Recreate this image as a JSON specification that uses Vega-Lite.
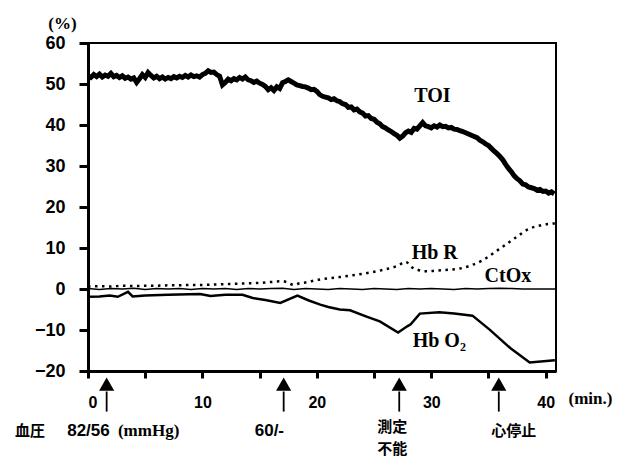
{
  "$schema": "https://vega.github.io/schema/vega-lite/v6.json",
  "width": 468,
  "height": 328,
  "autosize": {"type": "none"},
  "padding": {"left": 88, "top": 43, "right": 68, "bottom": 86},
  "background": "white",
  "config": {
    "view": {"stroke": "black", "strokeWidth": 2},
    "axis": {
      "grid": false,
      "domainColor": "black",
      "domainWidth": 3,
      "tickColor": "black",
      "tickWidth": 3,
      "labelColor": "black",
      "labelFont": "Liberation Sans",
      "labelFontWeight": "bold",
      "titleColor": "black",
      "titleFont": "Liberation Serif",
      "titleFontWeight": "bold"
    }
  },
  "datasets": {
    "toi": [
      {"t":0.0,"v":52.0},{"t":0.25,"v":51.6},{"t":0.5,"v":52.3},{"t":0.75,"v":51.8},{"t":1.0,"v":52.4},{"t":1.25,"v":51.7},{"t":1.5,"v":52.2},{"t":1.75,"v":51.9},
      {"t":2.0,"v":52.6},{"t":2.25,"v":51.8},{"t":2.5,"v":52.1},{"t":2.75,"v":51.6},{"t":3.0,"v":52.0},{"t":3.25,"v":51.4},{"t":3.5,"v":51.7},{"t":3.75,"v":51.2},
      {"t":4.0,"v":51.5},{"t":4.25,"v":50.4},{"t":4.5,"v":51.3},{"t":4.75,"v":52.3},{"t":5.0,"v":51.6},{"t":5.25,"v":52.8},{"t":5.5,"v":52.1},{"t":5.75,"v":51.5},
      {"t":6.0,"v":51.9},{"t":6.25,"v":51.3},{"t":6.5,"v":51.7},{"t":6.75,"v":51.2},{"t":7.0,"v":51.6},{"t":7.25,"v":51.3},{"t":7.5,"v":51.8},{"t":7.75,"v":51.5},
      {"t":8.0,"v":51.9},{"t":8.25,"v":51.6},{"t":8.5,"v":52.1},{"t":8.75,"v":51.7},{"t":9.0,"v":52.2},{"t":9.25,"v":51.8},{"t":9.5,"v":52.0},{"t":9.75,"v":51.7},
      {"t":10.0,"v":52.3},{"t":10.25,"v":52.6},{"t":10.5,"v":53.2},{"t":10.75,"v":52.8},{"t":11.0,"v":52.9},{"t":11.25,"v":52.3},{"t":11.5,"v":51.9},{"t":11.75,"v":49.8},
      {"t":12.0,"v":50.4},{"t":12.25,"v":51.2},{"t":12.5,"v":50.8},{"t":12.75,"v":51.3},{"t":13.0,"v":51.0},{"t":13.25,"v":51.6},{"t":13.5,"v":51.2},{"t":13.75,"v":51.7},
      {"t":14.0,"v":51.0},{"t":14.25,"v":50.8},{"t":14.5,"v":50.4},{"t":14.75,"v":50.7},{"t":15.0,"v":50.2},{"t":15.25,"v":49.9},{"t":15.5,"v":49.4},{"t":15.75,"v":48.6},
      {"t":16.0,"v":49.1},{"t":16.25,"v":48.4},{"t":16.5,"v":49.3},{"t":16.75,"v":48.9},{"t":17.0,"v":50.3},{"t":17.25,"v":50.6},{"t":17.5,"v":51.0},{"t":17.75,"v":50.6},
      {"t":18.0,"v":50.2},{"t":18.25,"v":49.8},{"t":18.5,"v":49.6},{"t":18.75,"v":49.4},{"t":19.0,"v":49.3},{"t":19.25,"v":49.0},{"t":19.5,"v":48.6},{"t":19.75,"v":48.7},
      {"t":20.0,"v":48.2},{"t":20.25,"v":47.4},{"t":20.5,"v":47.0},{"t":20.75,"v":46.8},{"t":21.0,"v":46.6},{"t":21.25,"v":46.2},{"t":21.5,"v":46.4},{"t":21.75,"v":45.9},
      {"t":22.0,"v":45.7},{"t":22.25,"v":45.2},{"t":22.5,"v":45.0},{"t":22.75,"v":44.3},{"t":23.0,"v":44.4},{"t":23.25,"v":43.7},{"t":23.5,"v":43.9},{"t":23.75,"v":43.2},
      {"t":24.0,"v":42.9},{"t":24.25,"v":42.2},{"t":24.5,"v":42.3},{"t":24.75,"v":41.6},{"t":25.0,"v":41.4},{"t":25.25,"v":40.7},{"t":25.5,"v":40.3},{"t":25.75,"v":39.6},
      {"t":26.0,"v":39.3},{"t":26.25,"v":38.8},{"t":26.5,"v":38.4},{"t":26.75,"v":37.9},{"t":27.0,"v":37.5},{"t":27.25,"v":36.8},{"t":27.5,"v":37.3},{"t":27.75,"v":38.1},
      {"t":28.0,"v":38.5},{"t":28.25,"v":38.2},{"t":28.5,"v":39.2},{"t":28.75,"v":39.0},{"t":29.0,"v":39.8},{"t":29.25,"v":40.6},{"t":29.5,"v":39.8},{"t":29.75,"v":39.6},
      {"t":30.0,"v":39.3},{"t":30.25,"v":39.8},{"t":30.5,"v":39.5},{"t":30.75,"v":40.0},{"t":31.0,"v":39.6},{"t":31.25,"v":39.7},{"t":31.5,"v":39.3},{"t":31.75,"v":39.4},
      {"t":32.0,"v":39.0},{"t":32.25,"v":38.9},{"t":32.5,"v":38.6},{"t":32.75,"v":38.4},{"t":33.0,"v":38.1},{"t":33.25,"v":37.8},{"t":33.5,"v":37.5},{"t":33.75,"v":37.2},
      {"t":34.0,"v":36.9},{"t":34.25,"v":36.3},{"t":34.5,"v":35.9},{"t":34.75,"v":35.4},{"t":35.0,"v":35.0},{"t":35.25,"v":34.3},{"t":35.5,"v":33.6},{"t":35.75,"v":33.0},
      {"t":36.0,"v":32.3},{"t":36.25,"v":31.5},{"t":36.5,"v":30.4},{"t":36.75,"v":29.4},{"t":37.0,"v":28.6},{"t":37.25,"v":27.6},{"t":37.5,"v":26.9},{"t":37.75,"v":26.4},
      {"t":38.0,"v":25.6},{"t":38.25,"v":25.4},{"t":38.5,"v":24.9},{"t":38.75,"v":24.7},{"t":39.0,"v":24.5},{"t":39.25,"v":24.1},{"t":39.5,"v":24.3},{"t":39.75,"v":23.8},
      {"t":40.0,"v":23.9},{"t":40.25,"v":23.4},{"t":40.5,"v":23.7},{"t":40.75,"v":23.2}
    ],
    "hbr": [
      {"t":0,"v":0.6},{"t":1,"v":0.7},{"t":2,"v":0.6},{"t":3,"v":0.8},{"t":4,"v":0.7},{"t":5,"v":0.8},{"t":6,"v":0.8},{"t":7,"v":0.9},
      {"t":8,"v":0.9},{"t":9,"v":1.0},{"t":10,"v":1.0},{"t":11,"v":1.1},{"t":12,"v":1.2},{"t":13,"v":1.3},{"t":14,"v":1.4},{"t":15,"v":1.5},
      {"t":16,"v":1.7},{"t":17,"v":1.9},{"t":17.5,"v":1.5},{"t":18,"v":1.0},{"t":18.5,"v":1.4},{"t":19,"v":1.6},{"t":20,"v":2.2},{"t":21,"v":2.6},
      {"t":22,"v":2.9},{"t":23,"v":3.3},{"t":24,"v":3.7},{"t":25,"v":4.2},{"t":26,"v":4.8},{"t":27,"v":5.6},{"t":27.8,"v":6.6},{"t":28.2,"v":5.5},
      {"t":28.8,"v":4.7},{"t":29.5,"v":4.3},{"t":30.5,"v":4.5},{"t":31.5,"v":4.7},{"t":32.5,"v":5.0},{"t":33.5,"v":5.8},{"t":34.5,"v":7.0},{"t":35.5,"v":8.9},
      {"t":36.5,"v":10.8},{"t":37.5,"v":12.8},{"t":38.5,"v":14.6},{"t":39.5,"v":15.5},{"t":40.8,"v":16.0}
    ],
    "ctox": [
      {"t":0,"v":0.1},{"t":1,"v":-0.1},{"t":2,"v":0.1},{"t":3,"v":0},{"t":4,"v":0.2},{"t":5,"v":-0.1},{"t":6,"v":0.1},{"t":7,"v":0},
      {"t":8,"v":0.1},{"t":9,"v":-0.1},{"t":10,"v":0.1},{"t":11,"v":0},{"t":12,"v":0.1},{"t":13,"v":-0.1},{"t":14,"v":0.1},{"t":15,"v":0},
      {"t":16,"v":0.1},{"t":17,"v":0.2},{"t":18,"v":-0.1},{"t":19,"v":0.1},{"t":20,"v":0},{"t":21,"v":-0.1},{"t":22,"v":0.1},{"t":23,"v":0},
      {"t":24,"v":-0.1},{"t":25,"v":0.1},{"t":26,"v":0},{"t":27,"v":-0.1},{"t":28,"v":0.1},{"t":29,"v":0},{"t":30,"v":0.1},{"t":31,"v":0},
      {"t":32,"v":-0.1},{"t":33,"v":0.1},{"t":34,"v":0},{"t":35,"v":0.1},{"t":36,"v":0.2},{"t":37,"v":0.1},{"t":38,"v":0},{"t":40.9,"v":0}
    ],
    "hbo2": [
      {"t":0,"v":-1.9},{"t":1,"v":-1.8},{"t":1.9,"v":-1.6},{"t":2.6,"v":-1.9},{"t":3.5,"v":-0.7},{"t":3.9,"v":-1.8},{"t":5,"v":-1.6},{"t":7,"v":-1.4},
      {"t":9.8,"v":-1.2},{"t":10.7,"v":-1.7},{"t":12,"v":-1.4},{"t":13.5,"v":-1.4},{"t":14.4,"v":-2.2},{"t":15.5,"v":-2.7},{"t":16.8,"v":-3.4},{"t":18.3,"v":-1.6},
      {"t":19.3,"v":-2.8},{"t":20.3,"v":-3.8},{"t":21,"v":-4.4},{"t":22,"v":-5.0},{"t":22.9,"v":-5.2},{"t":24.4,"v":-6.8},{"t":25.5,"v":-7.9},{"t":27.1,"v":-10.6},
      {"t":27.9,"v":-9.1},{"t":28.2,"v":-8.6},{"t":29,"v":-6.0},{"t":30.7,"v":-5.7},{"t":32,"v":-6.0},{"t":33.6,"v":-6.5},{"t":35.1,"v":-9.9},{"t":36.9,"v":-14.4},
      {"t":38.6,"v":-17.9},{"t":40.8,"v":-17.4}
    ],
    "serieslabels": [
      {"t":30.1,"v":47.0,"label":"TOI"},
      {"t":30.3,"v":8.8,"label":"Hb R"},
      {"t":36.7,"v":3.1,"label":"CtOx"},
      {"t":30.7,"v":-12.8,"label":"Hb O₂"}
    ],
    "arrows": [
      {"t":1.63,"v":-23.2,"v_base":-25.0,"v_end":-29.9},
      {"t":17.1,"v":-23.2,"v_base":-25.0,"v_end":-29.9},
      {"t":27.2,"v":-23.2,"v_base":-25.0,"v_end":-29.9},
      {"t":35.9,"v":-23.2,"v_base":-25.0,"v_end":-29.9}
    ],
    "sanslabels": [
      {"t":0.04,"v":-34.6,"label":"82/56"},
      {"t":15.85,"v":-34.6,"label":"60/-"}
    ],
    "seriflabels": [
      {"t":5.3,"v":-34.6,"label":"(mmHg)"}
    ],
    "cjklabels": [
      {"t":-5.07,"v":-34.6,"label":"血圧"},
      {"t":26.6,"v":-33.6,"label":"測定"},
      {"t":26.6,"v":-39.0,"label":"不能"},
      {"t":37.2,"v":-34.6,"label":"心停止"}
    ]
  },
  "encoding": {
    "x": {
      "field": "t",
      "type": "quantitative",
      "scale": {"domain": [0, 40.9], "nice": false, "zero": false},
      "axis": {
        "values": [0, 5, 10, 15, 20, 25, 30, 35, 40],
        "labelExpr": "datum.value % 10 === 0 ? datum.label : ''",
        "labelFontSize": 16,
        "labelPadding": 16,
        "tickSize": 7,
        "title": "(min.)",
        "titleFontSize": 17,
        "titleAngle": 0,
        "titleAlign": "center",
        "titleBaseline": "middle",
        "titleX": 502,
        "titleY": 27
      }
    },
    "y": {
      "field": "v",
      "type": "quantitative",
      "scale": {"domain": [-20, 60], "nice": false, "zero": false},
      "axis": {
        "values": [-20, -10, 0, 10, 20, 30, 40, 50, 60],
        "labelFontSize": 18,
        "labelPadding": 14,
        "tickSize": 9,
        "title": "(%)",
        "titleFontSize": 17,
        "titleAngle": 0,
        "titleAlign": "center",
        "titleBaseline": "middle",
        "titleX": -26,
        "titleY": -20
      }
    }
  },
  "layer": [
    {
      "data": {"name": "ctox"},
      "mark": {"type": "line", "color": "black", "strokeWidth": 1.5, "clip": true}
    },
    {
      "data": {"name": "hbr"},
      "mark": {"type": "line", "color": "black", "strokeWidth": 2.5, "strokeDash": [2.5, 4.5], "interpolate": "monotone", "clip": true}
    },
    {
      "data": {"name": "hbo2"},
      "mark": {"type": "line", "color": "black", "strokeWidth": 2.5, "clip": true}
    },
    {
      "data": {"name": "toi"},
      "mark": {"type": "line", "color": "black", "strokeWidth": 5, "strokeJoin": "miter", "clip": true}
    },
    {
      "data": {"name": "serieslabels"},
      "mark": {"type": "text", "font": "Liberation Serif", "fontWeight": "bold", "fontSize": 20, "color": "black", "align": "center", "baseline": "middle"},
      "encoding": {"text": {"field": "label"}}
    },
    {
      "data": {"name": "arrows"},
      "mark": {"type": "rule", "color": "black", "strokeWidth": 1.8},
      "encoding": {"y": {"field": "v_base", "type": "quantitative"}, "y2": {"field": "v_end"}}
    },
    {
      "data": {"name": "arrows"},
      "mark": {"type": "point", "shape": "triangle-up", "size": 230, "filled": true, "color": "black", "opacity": 1, "strokeWidth": 0}
    },
    {
      "data": {"name": "sanslabels"},
      "mark": {"type": "text", "font": "Liberation Sans", "fontWeight": "bold", "fontSize": 17, "color": "black", "align": "center", "baseline": "middle"},
      "encoding": {"text": {"field": "label"}}
    },
    {
      "data": {"name": "seriflabels"},
      "mark": {"type": "text", "font": "Liberation Serif", "fontWeight": "bold", "fontSize": 17, "color": "black", "align": "center", "baseline": "middle"},
      "encoding": {"text": {"field": "label"}}
    },
    {
      "data": {"name": "cjklabels"},
      "mark": {"type": "text", "font": "Noto Sans CJK JP", "fontWeight": "bold", "fontSize": 15, "color": "black", "align": "center", "baseline": "middle"},
      "encoding": {"text": {"field": "label"}}
    }
  ]
}
